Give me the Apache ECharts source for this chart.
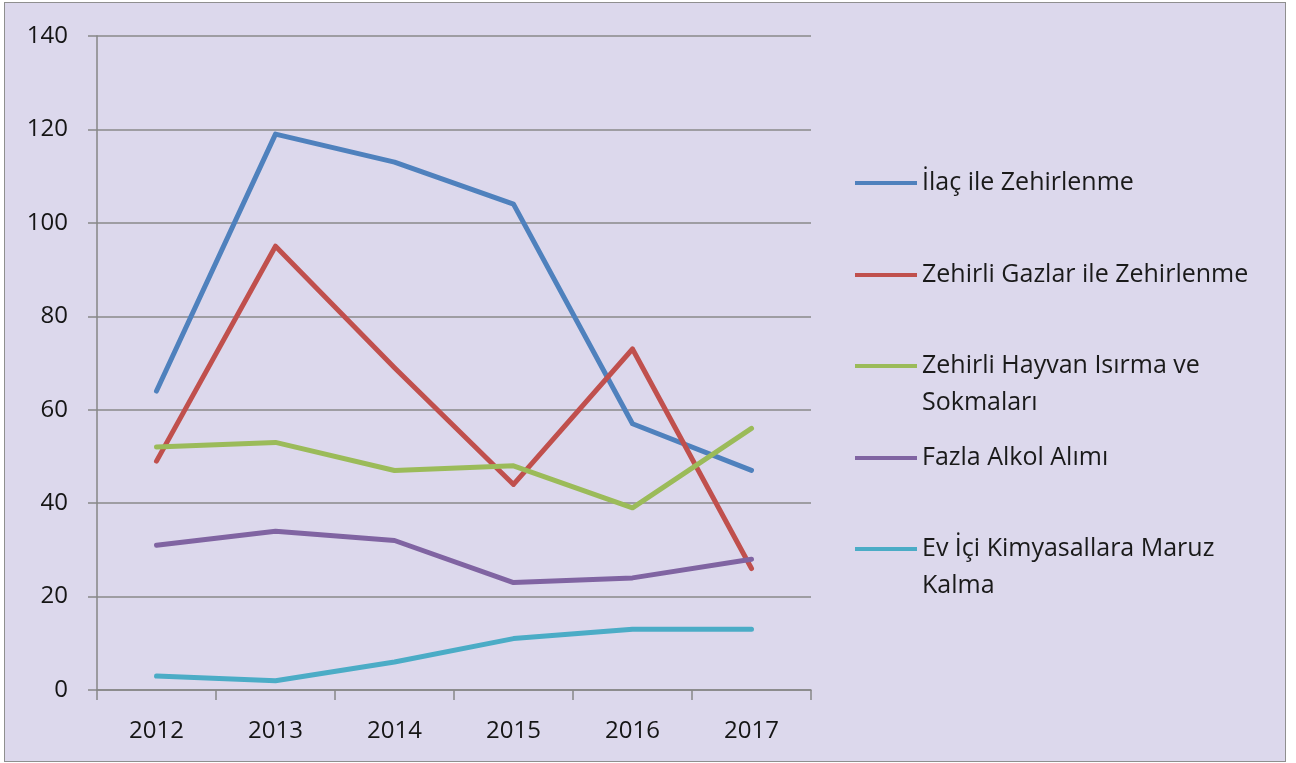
<!DOCTYPE html>
<html>
<head>
<meta charset="utf-8">
<script src="https://cdn.jsdelivr.net/npm/echarts@6/dist/echarts.min.js"></script>
<style>
  html, body { margin: 0; padding: 0; background: #fff; }
  #frame { position: absolute; left: 4px; top: 2px; width: 1280px; height: 758px;
           background: #dcd8ec; border: 1.5px solid #8f8f8f; }
  #chart { position: absolute; left: 0; top: 0; width: 1296px; height: 763px; }
</style>
</head>
<body>
<div id="frame"></div>
<div id="chart"></div>
<script>
// years on the x axis
const years = ['2012', '2013', '2014', '2015', '2016', '2017'];

// series names (as in the legend)
const names = [
  'İlaç ile Zehirlenme',
  'Zehirli Gazlar ile Zehirlenme',
  'Zehirli Hayvan Isırma ve\nSokmaları',
  'Fazla Alkol Alımı',
  'Ev İçi Kimyasallara Maruz\nKalma'
];

// values
const ilac     = [64, 119, 113, 104, 57, 47];
const gazlar   = [49, 95, 69, 44, 73, 26];
const hayvan   = [52, 53, 47, 48, 39, 56];
const alkol    = [31, 34, 32, 23, 24, 28];
const kimyasal = [3, 2, 6, 11, 13, 13];

const colors = ['#4f81bd', '#c0504d', '#9bbb59', '#8064a2', '#4bacc6'];
const values = [ilac, gazlar, hayvan, alkol, kimyasal];

const font = '"Open Sans", sans-serif';
const legendTops = [183, 275, 366, 458, 549];   // centre of first text line
const lh = 37;

const chart = echarts.init(document.getElementById('chart'));

// two-line entries: icon box taller, line drawn at its top so it sits on line 1
const legends = names.map((n, i) => {
  const multi = n.indexOf('\n') >= 0;
  return {
    left: 855,
    top: legendTops[i] - lh / 2,
    orient: 'vertical',
    data: [n],
    icon: multi ? 'path://M0,0H62V4H0Z M0,41H0.01V41Z' : 'rect',
    symbolKeepAspect: false,
    itemWidth: 62,
    itemHeight: multi ? 41 : 4,
    itemGap: 0,
    padding: 0,
    itemStyle: { borderWidth: 0 },
    textStyle: {
      fontFamily: font,
      fontSize: 25,
      color: '#1a1a1a',
      lineHeight: lh
    }
  };
});

chart.setOption({
  backgroundColor: 'transparent',
  animation: false,
  color: colors,
  legend: legends,
  grid: { left: 97, right: 485, top: 36, bottom: 73 },
  xAxis: {
    type: 'category',
    data: years,
    boundaryGap: true,
    axisLine: { lineStyle: { color: '#868686', width: 1.5 } },
    axisTick: { show: true, length: 10, lineStyle: { color: '#868686', width: 1.5 } },
    axisLabel: { fontFamily: font, fontSize: 24, color: '#151515', margin: 29 }
  },
  yAxis: {
    type: 'value',
    min: 0,
    max: 140,
    interval: 20,
    axisLine: { show: true, lineStyle: { color: '#868686', width: 1.5 } },
    axisTick: { show: true, length: 9, lineStyle: { color: '#868686', width: 1.5 } },
    splitLine: { lineStyle: { color: '#8a8a8a', width: 1.5 } },
    axisLabel: { fontFamily: font, fontSize: 24, color: '#151515', margin: 29 }
  },
  series: names.map((n, i) => ({
    name: n,
    type: 'line',
    data: values[i],
    showSymbol: false,
    symbol: 'none',
    lineStyle: { width: 5, color: colors[i], cap: 'round', join: 'round' }
  }))
});
</script>
</body>
</html>
